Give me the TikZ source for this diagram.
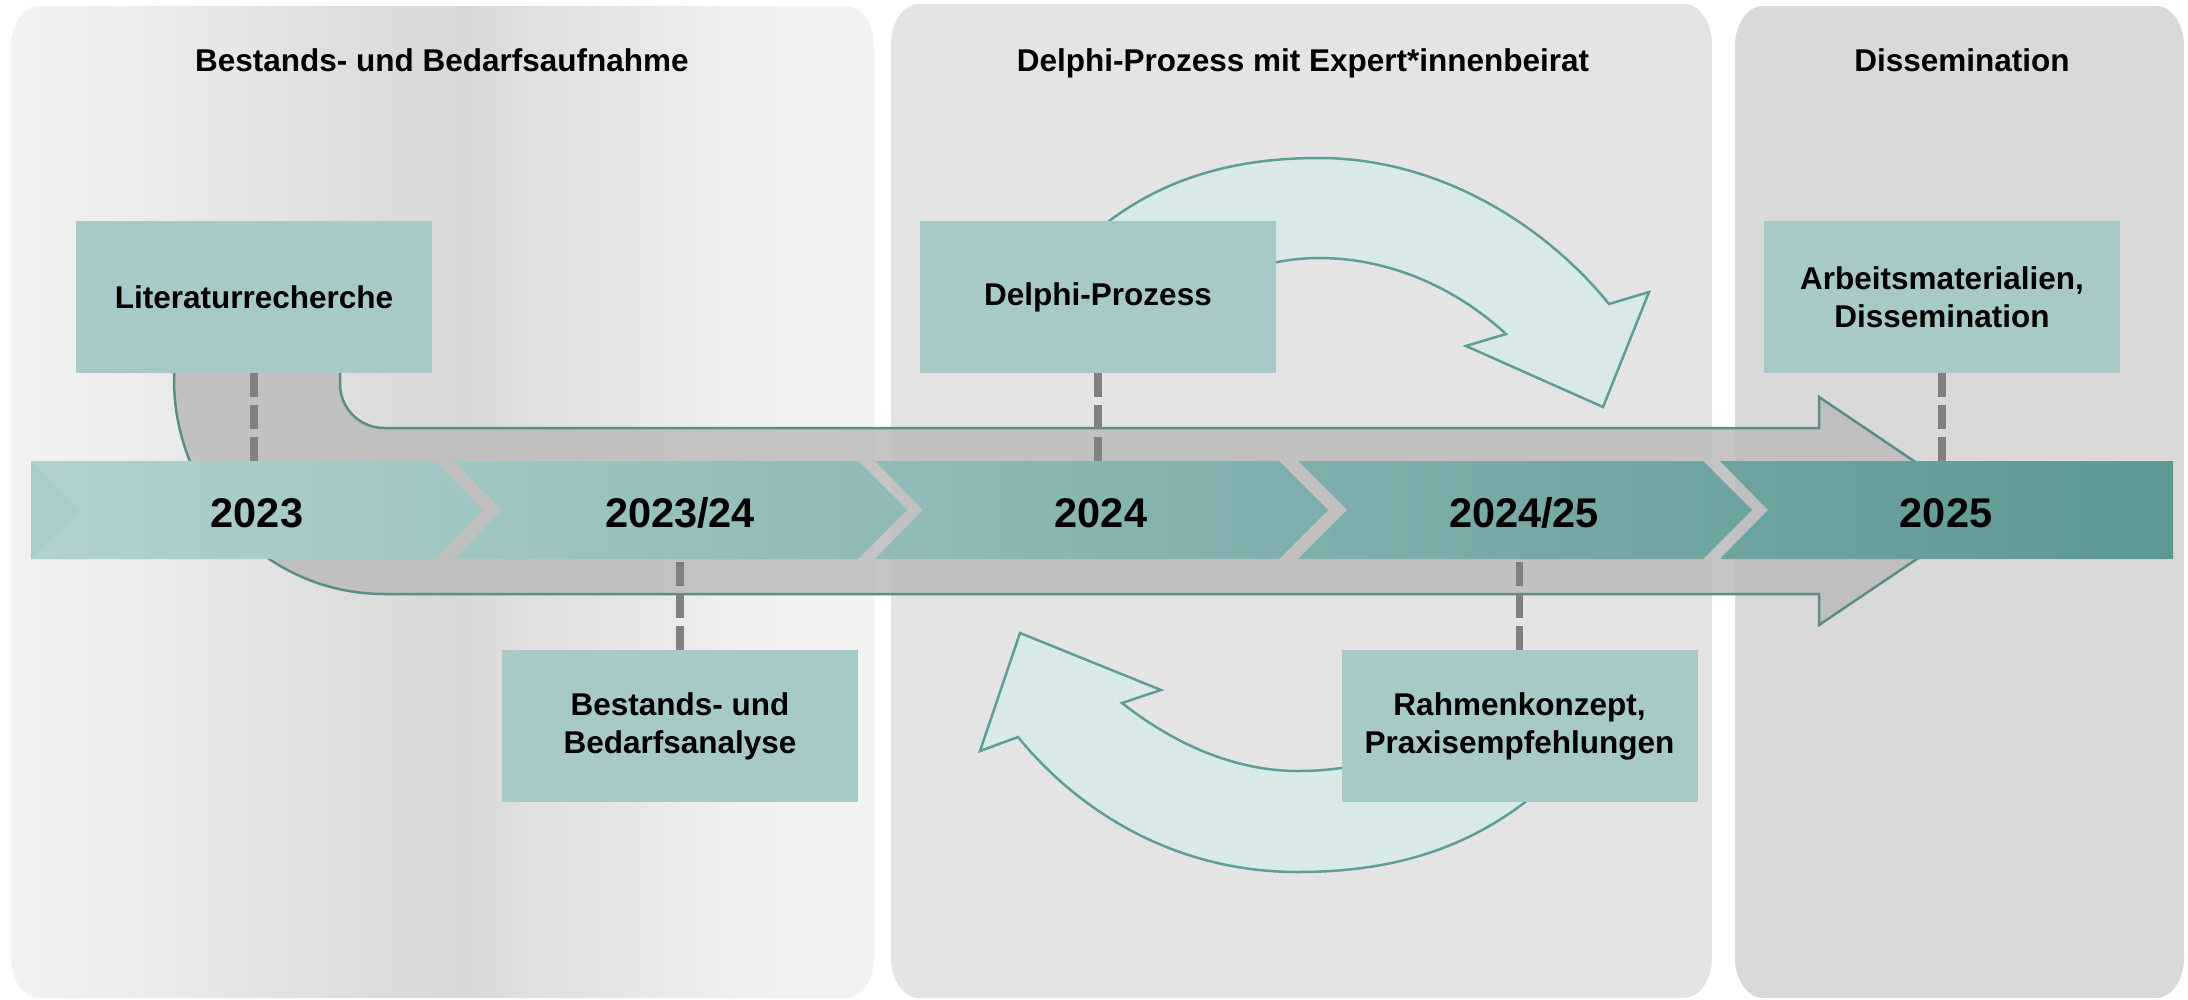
\documentclass[tikz,border=0pt]{standalone}
\usepackage{fontspec}
\setmainfont{Liberation Sans}
\usetikzlibrary{calc}
\definecolor{boxfill}{HTML}{A7C9C8}
\definecolor{arrfill}{HTML}{D9E9E8}
\definecolor{arrline}{HTML}{5F9E98}
\definecolor{bandfill}{HTML}{BBBBBB}
\definecolor{bandline}{HTML}{5B8E89}
\definecolor{dashgray}{HTML}{808080}
\definecolor{tlA}{HTML}{B0D1D0}
\definecolor{tlB}{HTML}{5D9893}
\definecolor{tlnotch}{HTML}{AACCCB}
\definecolor{gA}{HTML}{F2F2F2}
\definecolor{gB}{HTML}{ECECEC}
\definecolor{gC}{HTML}{E3E3E3}
\definecolor{gD}{HTML}{DBDBDB}
\definecolor{gE}{HTML}{D8D8D8}
\definecolor{gF}{HTML}{DFDFDF}
\definecolor{gG}{HTML}{E8E8E8}
\definecolor{gH}{HTML}{F0F0F0}
\definecolor{pBa}{HTML}{E4E4E4}
\definecolor{pBc}{HTML}{C7C7C7}
\definecolor{pCa}{HTML}{D9D9D9}
\definecolor{pCc}{HTML}{C5C5C5}
\newcommand\myboxfont{\bfseries\fontsize{31.5}{38}\selectfont}
\newcommand\myyearfont{\bfseries\fontsize{41.5}{48}\selectfont}
% panel outline with elliptical corners: left, top, right, bottom
\newcommand\panelpath[4]{(#1+28,#2) -- (#3-28,#2) .. controls (#3-12.5,#2) and (#3,#2+18) .. (#3,#2+40) -- (#3,#4-40) .. controls (#3,#4-18) and (#3-12.5,#4) .. (#3-28,#4) -- (#1+28,#4) .. controls (#1+12.5,#4) and (#1,#4-18) .. (#1,#4-40) -- (#1,#2+40) .. controls (#1,#2+18) and (#1+12.5,#2) .. (#1+28,#2) -- cycle}
\tikzset{
  box/.style={fill=boxfill, minimum width=356pt, minimum height=152pt, inner sep=0pt, align=center, font=\myboxfont},
  titlelbl/.style={font=\myboxfont, anchor=base, inner sep=0pt},
  yearlbl/.style={font=\myyearfont, anchor=base, inner sep=0pt},
  curvarr/.style={fill=arrfill, draw=arrline, line width=2.5pt, line join=miter},
  band/.style={fill=bandfill, fill opacity=0.85, draw=bandline, line width=2.5pt},
  dashline/.style={draw=dashgray, line width=7.5pt, dash pattern=on 24pt off 8pt},
}
\begin{document}
\begin{tikzpicture}[x=1pt, y=-1pt]
\useasboundingbox (0,0) rectangle (2188,999);
\fill[white] (0,0) rectangle (2188,999);
% panel 1 (piecewise horizontal gradient)
\begin{scope}
\clip \panelpath{11}{6}{874}{998};
\shade[left color=gA, right color=gB] (10,0) rectangle (139,999);
\shade[left color=gB, right color=gC] (138,0) rectangle (277,999);
\shade[left color=gC, right color=gD] (276,0) rectangle (401,999);
\shade[left color=gD, right color=gE] (400,0) rectangle (466,999);
\shade[left color=gE, right color=gF] (465,0) rectangle (521,999);
\shade[left color=gF, right color=gG] (520,0) rectangle (651,999);
\shade[left color=gG, right color=gH] (650,0) rectangle (741,999);
\shade[left color=gH, right color=gA] (740,0) rectangle (876,999);
\end{scope}
% panels 2 and 3
\shade[left color=pBa, middle color=pBc, right color=pBa] \panelpath{891}{4}{1712}{998};
\shade[left color=pCa, middle color=pCc, right color=pCa] \panelpath{1735}{6}{2184}{998};
% titles
\node[titlelbl] (t1) at (442,71) {Bestands- und Bedarfsaufnahme};
\node[titlelbl] (t2) at (1303,71) {Delphi-Prozess mit Expert*innenbeirat};
\node[titlelbl] (t3) at (1962,71) {Dissemination};
% grey bent band arrow
\path[band] (340,330) -- (340,384) .. controls (340,408.3) and (359.7,428) .. (384,428)
  -- (1819,428) -- (1819,397) -- (1988,511) -- (1819,625) -- (1819,594)
  -- (384,594) .. controls (268,594) and (174,497.7) .. (174,379) -- (174,330) -- cycle;
% timeline chevrons
\shade[left color=tlA, right color=tlB!21!tlA] (31,461) -- (435,461) -- (483,510) -- (435,559) -- (31,559) -- cycle;
\fill[tlnotch] (31,461) -- (79,510) -- (31,559) -- cycle;
\shade[left color=tlB!20!tlA, right color=tlB!41!tlA] (454,461) -- (858,461) -- (907,510) -- (858,559) -- (454,559) -- (502,510) -- cycle;
\shade[left color=tlB!39!tlA, right color=tlB!61!tlA] (875,461) -- (1279,461) -- (1328,510) -- (1279,559) -- (875,559) -- (923,510) -- cycle;
\shade[left color=tlB!59!tlA, right color=tlB!80!tlA] (1298,461) -- (1703,461) -- (1752,510) -- (1703,559) -- (1298,559) -- (1347,510) -- cycle;
\shade[left color=tlB!79!tlA, right color=tlB] (1720,461) -- (2173,461) -- (2173,559) -- (1720,559) -- (1768,510) -- cycle;
\node[inner sep=0pt, minimum width=2142pt, minimum height=98pt] (tl) at (1102,510) {};
\node[yearlbl] (y1) at (257,527) {2023};
\node[yearlbl] (y2) at (680,527) {2023/24};
\node[yearlbl] (y3) at (1101,527) {2024};
\node[yearlbl] (y4) at (1524,527) {2024/25};
\node[yearlbl] (y5) at (1946,527) {2025};
% curved arrows
\path[curvarr] (1100,228) .. controls (1160,180) and (1230,158) .. (1319,158)
  .. controls (1440,158) and (1546,226) .. (1609,304)
  -- (1649,292) -- (1603,407) -- (1466,346) -- (1506,334)
  .. controls (1456,288) and (1390,258) .. (1319,258)
  .. controls (1295,258) and (1275,262) .. (1250,268) -- cycle;
\path[curvarr] (1540,790) .. controls (1470,850) and (1390,872) .. (1298,872)
  .. controls (1170,872) and (1075,807) .. (1018,737)
  -- (980,751) -- (1020,633) -- (1161,690) -- (1122,703)
  .. controls (1169,740) and (1230,771) .. (1298,771)
  .. controls (1320,771) and (1340,769) .. (1370,763) -- cycle;
% boxes
\node[box] (lit) at (254,297) {Literaturrecherche};
\node[box] (ana) at (680,726) {Bestands- und\\Bedarfsanalyse};
\node[box] (del) at (1098,297) {Delphi-Prozess};
\node[box] (rah) at (1519.5,726) {Rahmenkonzept,\\Praxisempfehlungen};
\node[box] (arb) at (1942,297) {Arbeitsmaterialien,\\Dissemination};
% dashed connectors
\draw[dashline] (lit.south) -- (lit.south |- tl.north);
\draw[dashline] (ana.north) -- (ana.north |- tl.south);
\draw[dashline] (del.south) -- (del.south |- tl.north);
\draw[dashline] (rah.north) -- (rah.north |- tl.south);
\draw[dashline] (arb.south) -- (arb.south |- tl.north);
\end{tikzpicture}
\end{document}
